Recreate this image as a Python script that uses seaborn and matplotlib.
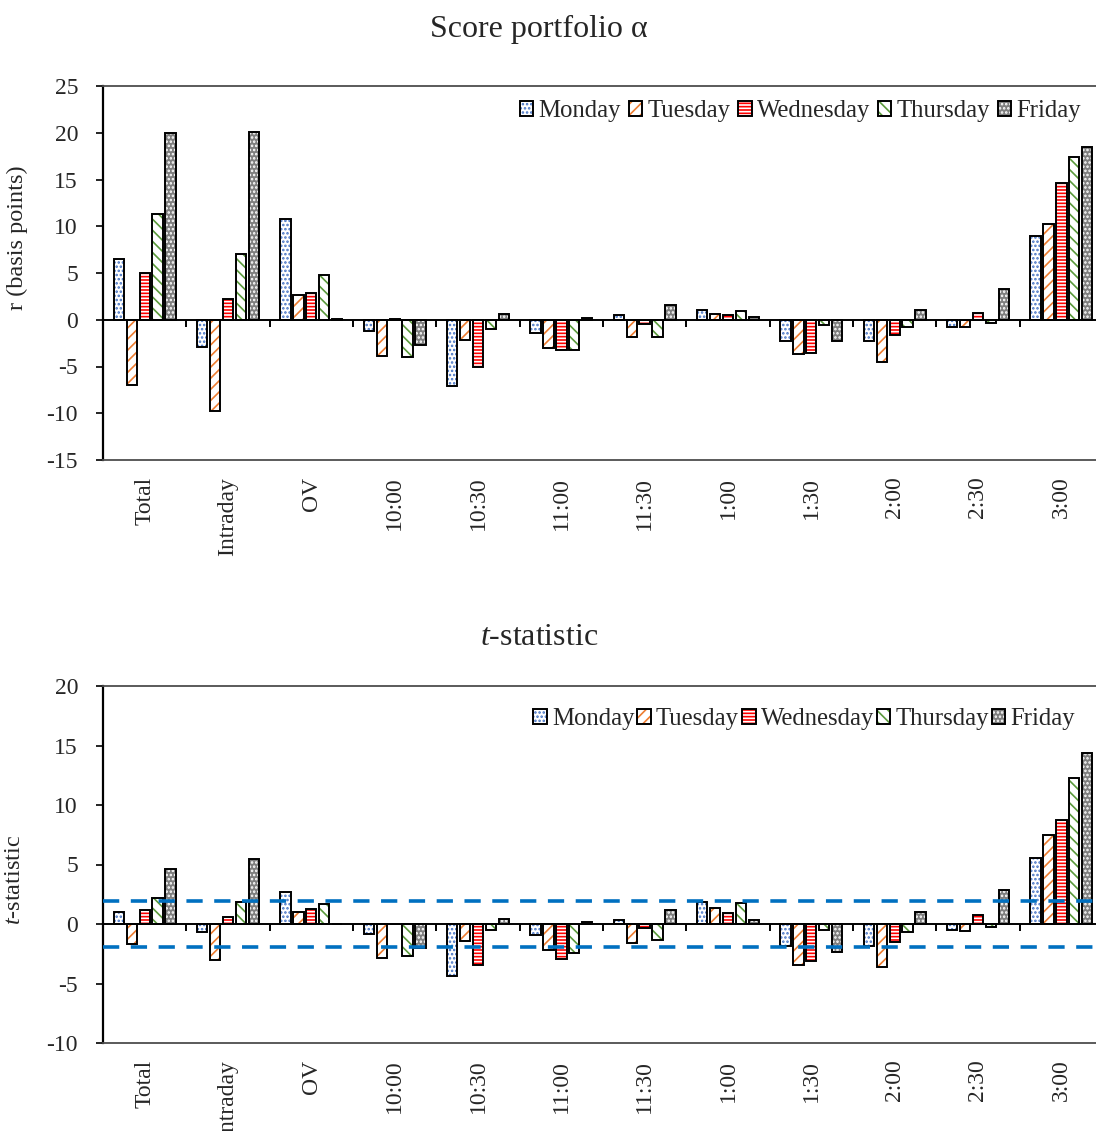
import numpy as np
import pandas as pd
import matplotlib
matplotlib.use("Agg")
import matplotlib.pyplot as plt
from matplotlib.patches import Rectangle, Patch
from matplotlib.legend_handler import HandlerTuple
import seaborn as sns

# ---- data ----
categories = ["Total", "Intraday", "OV", "10:00", "10:30", "11:00",
              "11:30", "1:00", "1:30", "2:00", "2:30", "3:00"]
days = ["Monday", "Tuesday", "Wednesday", "Thursday", "Friday"]

# average return, basis points
ret_monday = [6.5, -2.9, 10.8, -1.25, -7.07, -1.4, 0.46, 1.04, -2.3, -2.3, -0.75, 8.96]
ret_tuesday = [-7.0, -9.8, 2.7, -3.9, -2.2, -3.0, -1.8, 0.64, -3.7, -4.5, -0.79, 10.2]
ret_wednesday = [5.04, 2.2, 2.9, 0.05, -5.0, -3.25, -0.43, 0.46, -3.6, -1.64, 0.75, 14.6]
ret_thursday = [11.3, 7.0, 4.8, -4.0, -1.04, -3.2, -1.8, 0.93, -0.57, -0.79, -0.36, 17.4]
ret_friday = [20.0, 20.1, 0.07, -2.7, 0.57, 0.14, 1.57, 0.29, -2.25, 1.0, 3.3, 18.5]

# t-statistics
t_monday = [1.02, -0.65, 2.66, -0.82, -4.39, -0.96, 0.31, 1.81, -1.81, -1.84, -0.54, 5.58]
t_tuesday = [-1.67, -3.03, 1.05, -2.89, -1.39, -2.18, -1.59, 1.33, -3.43, -3.6, -0.59, 7.5]
t_wednesday = [1.19, 0.59, 1.30, 0.03, -3.48, -2.92, -0.34, 0.93, -3.14, -1.5, 0.74, 8.75]
t_thursday = [2.18, 1.84, 1.70, -2.72, -0.54, -2.44, -1.36, 1.78, -0.48, -0.65, -0.28, 12.24]
t_friday = [4.65, 5.44, 0.03, -2.04, 0.42, 0.14, 1.16, 0.37, -2.32, 1.02, 2.86, 14.4]

critical_t = 1.96

# ---- style ----
sns.set_style("ticks")
plt.rcParams["font.family"] = ["Liberation Serif", "DejaVu Serif"]
plt.rcParams["axes.unicode_minus"] = False
plt.rcParams["hatch.linewidth"] = 1.2
plt.rcParams["mathtext.fontset"] = "custom"
plt.rcParams["mathtext.rm"] = "Liberation Serif"
plt.rcParams["mathtext.it"] = "Liberation Serif:italic"

day_styles = {
    "Monday":    dict(face="white",   hatch="....",  hc="#4472C4"),
    "Tuesday":   dict(face="white",   hatch="///",   hc="#ED7D31"),
    "Wednesday": dict(face="#FF0000", hatch="-----", hc="white"),
    "Thursday":  dict(face="white",   hatch="\\\\\\", hc="#5B9A3C"),
    "Friday":    dict(face="#7F7F7F", hatch="....",  hc="white"),
}

W, H = 1096, 1131
fig = plt.figure(figsize=(W / 100, H / 100), dpi=100)


def style_fill(p, st):
    p.set_facecolor(st["face"])
    p.set_hatch(st["hatch"])
    p.set_edgecolor(st["hc"])
    if hasattr(p, "set_hatchcolor"):
        p.set_hatchcolor(st["hc"])
    p.set_linewidth(0)


def panel(rect_px, series, ylim, yticks, ylabel, label_pos, legend_xy, colspace):
    left, top, width, height = rect_px
    ax = fig.add_axes([left / W, 1 - (top + height) / H, width / W, height / H])
    df = pd.DataFrame({
        "category": np.tile(categories, len(days)),
        "day": np.repeat(days, len(categories)),
        "value": np.concatenate(series),
    })
    sns.barplot(data=df, x="category", y="value", hue="day",
                order=categories, hue_order=days, width=0.775, gap=0.2,
                errorbar=None, legend=False, ax=ax,
                palette=[day_styles[d]["face"] for d in days])
    for d, cont in zip(days, ax.containers):
        st = day_styles[d]
        for bar in cont:
            style_fill(bar, st)
            bar.set_zorder(2)
            ax.add_patch(Rectangle((bar.get_x(), bar.get_y()), bar.get_width(),
                                   bar.get_height(), fill=False, edgecolor="black",
                                   linewidth=1.4, zorder=3))
    ax.set_xlim(-0.5, len(categories) - 0.5)
    ax.set_ylim(*ylim)
    ax.set_yticks(yticks)
    ax.set_xlabel("")
    ax.set_ylabel(ylabel, fontsize=17.5)
    ax.yaxis.set_label_coords(*label_pos)

    # horizontal axis at zero with group-separator ticks
    ax.axhline(0, color="black", linewidth=1.4, zorder=2.5)
    tick_len = (ylim[1] - ylim[0]) * 7 / height
    ax.vlines(np.arange(0.5, len(categories) - 0.5, 1), -tick_len, 0,
              color="black", linewidth=1.4, zorder=2.5)

    ax.tick_params(axis="x", length=0, pad=12, labelsize=17, labelrotation=90)
    ax.tick_params(axis="y", length=5, width=1.2, pad=13, labelsize=17,
                   direction="out", color="black")
    for s in ["top", "right", "bottom"]:
        ax.spines[s].set_color("#4d4d4d")
        ax.spines[s].set_linewidth(1.3)
    ax.spines["left"].set_color("black")
    ax.spines["left"].set_linewidth(1.6)

    handles = []
    for d in days:
        st = day_styles[d]
        fill = Patch(facecolor=st["face"], hatch=st["hatch"], edgecolor=st["hc"], linewidth=0)
        if hasattr(fill, "set_hatchcolor"):
            fill.set_hatchcolor(st["hc"])
        outline = Patch(fill=False, edgecolor="black", linewidth=1.4)
        handles.append((fill, outline))
    ax.legend(handles, days, loc="center right",
              bbox_to_anchor=(legend_xy[0] / W, 1 - legend_xy[1] / H),
              bbox_transform=fig.transFigure, ncol=5, frameon=False,
              fontsize=17.8, handlelength=0.55, handleheight=0.55,
              handletextpad=0.2, columnspacing=colspace, borderpad=0,
              borderaxespad=0, handler_map={tuple: HandlerTuple(ndivide=1)})
    return ax


ax_top = panel((103, 86, 1000, 374),
               [ret_monday, ret_tuesday, ret_wednesday, ret_thursday, ret_friday],
               (-15, 25), range(-15, 26, 5), "r (basis points)",
               (-0.075, (460 - 238) / 374), (1081, 111), 0.32)

ax_bot = panel((103, 686, 1000, 357),
               [t_monday, t_tuesday, t_wednesday, t_thursday, t_friday],
               (-10, 20), range(-10, 21, 5), "$t$-statistic",
               (-0.078, (1043 - 880) / 357), (1075, 719), 0.12)

for yv in (critical_t, -critical_t):
    ax_bot.axhline(yv, color="#0070C0", linewidth=2.6, linestyle=(0, (4.5, 3.2)),
                   zorder=4)

fig.text(539 / W, 1 - 37.5 / H, "Score portfolio \u03b1", ha="center", va="baseline",
         fontsize=23)
fig.text(539 / W, 1 - 645 / H, "$t$-statistic", ha="center", va="baseline",
         fontsize=23)

fig.savefig("out.png", dpi=100)
